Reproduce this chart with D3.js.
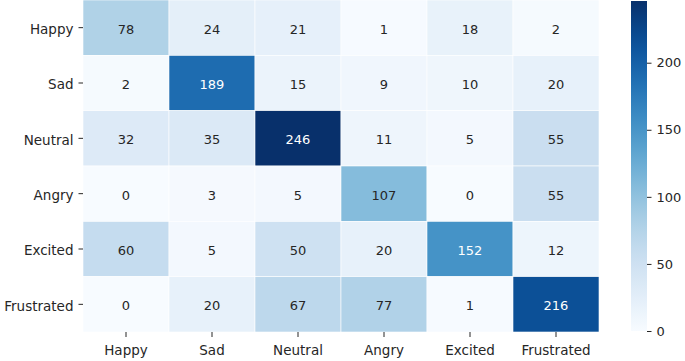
<!DOCTYPE html>
<html>
<head>
<meta charset="utf-8">
<script src="https://cdn.jsdelivr.net/npm/d3@7"></script>
<style>
  body { margin: 0; background: #fff; }
  text { font-family: "DejaVu Sans", sans-serif; }
</style>
</head>
<body>
<div id="container"></div>
<script>
// emotion labels (rows = true, cols = predicted)
const labels = ["Happy", "Sad", "Neutral", "Angry", "Excited", "Frustrated"];
const rowHappy = [78, 24, 21, 1, 18, 2];
const rowSad = [2, 189, 15, 9, 10, 20];
const rowNeutral = [32, 35, 246, 11, 5, 55];
const rowAngry = [0, 3, 5, 107, 0, 55];
const rowExcited = [60, 5, 50, 20, 152, 12];
const rowFrustrated = [0, 20, 67, 77, 1, 216];
const colorTicks = [0, 50, 100, 150, 200];

const matrix = [rowHappy, rowSad, rowNeutral, rowAngry, rowExcited, rowFrustrated];
const cells = [];
matrix.forEach((row, i) => row.forEach((v, j) => cells.push({r: labels[i], c: labels[j], v: v})));

const width = 685, height = 361;
const mLeft = 83, mRight = 599, mTop = 0, mBottom = 332;

const svg = d3.select("#container").append("svg")
  .attr("width", width).attr("height", height);

const x = d3.scaleBand().domain(labels).range([mLeft, mRight]);
const y = d3.scaleBand().domain(labels).range([mTop, mBottom]);
const vmax = d3.max(cells, d => d.v);
const color = d3.scaleSequential(d3.interpolateBlues).domain([0, vmax]);

svg.selectAll("rect.cell")
  .data(cells)
  .join("rect")
  .attr("class", "cell")
  .attr("x", d => x(d.c))
  .attr("y", d => y(d.r))
  .attr("width", x.bandwidth())
  .attr("height", y.bandwidth())
  .attr("fill", d => color(d.v))
  .attr("stroke", "#fff")
  .attr("stroke-width", 0.6);

// annotation text, white on dark cells
const lum = c => {
  const rgb = d3.rgb(c);
  const f = u => { u /= 255; return u <= 0.03928 ? u / 12.92 : Math.pow((u + 0.055) / 1.055, 2.4); };
  return 0.2126 * f(rgb.r) + 0.7152 * f(rgb.g) + 0.0722 * f(rgb.b);
};
svg.selectAll("text.val")
  .data(cells)
  .join("text")
  .attr("class", "val")
  .attr("x", d => x(d.c) + x.bandwidth() / 2)
  .attr("y", d => y(d.r) + y.bandwidth() / 2 + 1.5)
  .attr("text-anchor", "middle")
  .attr("dominant-baseline", "central")
  .attr("font-size", 13)
  .attr("fill", d => lum(color(d.v)) > 0.408 ? "#262626" : "#ffffff")
  .text(d => d.v);

// axes
const xAxis = svg.append("g")
  .attr("transform", `translate(0,${mBottom})`)
  .call(d3.axisBottom(x).tickSize(5).tickPadding(8));
const yAxis = svg.append("g")
  .attr("transform", `translate(${mLeft},0)`)
  .call(d3.axisLeft(y).tickSize(4.5).tickPadding(5));
[xAxis, yAxis].forEach(g => {
  g.select(".domain").remove();
  g.selectAll("line").attr("stroke", "#262626");
  g.selectAll("text").attr("font-size", 13.5).attr("fill", "#262626")
    .style("font-family", "DejaVu Sans, sans-serif");
});
yAxis.selectAll("text").attr("y", 2);

// colorbar
const cbX = 631, cbW = 16, cbTop = 1, cbBottom = 331;
const cy = d3.scaleLinear().domain([0, vmax]).range([cbBottom, cbTop]);
const defs = svg.append("defs");
const grad = defs.append("linearGradient").attr("id", "cb")
  .attr("x1", 0).attr("y1", 1).attr("x2", 0).attr("y2", 0);
d3.range(0, 1.0001, 0.05).forEach(t => {
  grad.append("stop").attr("offset", t).attr("stop-color", color(t * vmax));
});
svg.append("rect")
  .attr("x", cbX).attr("y", cbTop)
  .attr("width", cbW).attr("height", cbBottom - cbTop)
  .attr("fill", "url(#cb)");
const cAxis = svg.append("g")
  .attr("transform", `translate(${cbX + cbW},0)`)
  .call(d3.axisRight(cy).tickValues(colorTicks).tickSize(4.5).tickPadding(5));
cAxis.select(".domain").remove();
cAxis.selectAll("line").attr("stroke", "#262626");
cAxis.selectAll("text").attr("font-size", 13).attr("fill", "#262626")
  .style("font-family", "DejaVu Sans, sans-serif");
</script>
</body>
</html>
